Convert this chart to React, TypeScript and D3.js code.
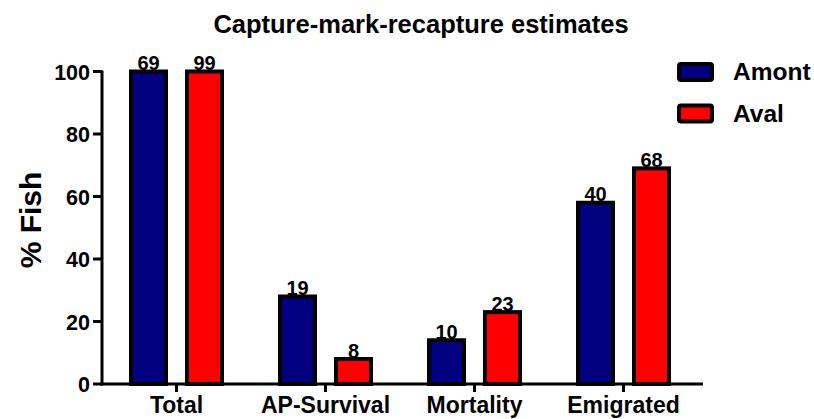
import React from "react";
import * as d3 from "d3";

const categories = ["Total", "AP-Survival", "Mortality", "Emigrated"];
const series = ["Amont", "Aval"];
const amontValues = [100, 28, 14, 58];
const avalValues = [100, 8, 23, 69];
const amontLabels = ["69", "19", "10", "40"];
const avalLabels = ["99", "8", "23", "68"];
const colors = ["#000080", "#ff0000"];
const yTicks = [0, 20, 40, 60, 80, 100];

export default function App() {
  const W = 814, H = 419;
  const x = d3.scaleBand<string>().domain(categories).range([102, 698]).padding(0);
  const xs = d3.scaleBand<string>().domain(series).range([29, 120]).paddingInner(0.375);
  const y = d3.scaleLinear().domain([0, 100]).range([384, 71.5]);
  const vals = [amontValues, avalValues];
  const labs = [amontLabels, avalLabels];
  const font = "'Liberation Sans', Arial, sans-serif";
  return (
    <svg width={W} height={H} style={{ position: "absolute", left: 0, top: 0, background: "#fff" }} fontFamily={font}>
      <text x={421} y={33} textAnchor="middle" fontWeight="bold" fontSize={25.5}>Capture-mark-recapture estimates</text>
      {series.map((s, si) =>
        categories.map((c, ci) => {
          const bx = (x(c) as number) + (xs(s) as number);
          const by = y(vals[si][ci]);
          return (
            <g key={s + c}>
              <rect x={bx} y={by} width={xs.bandwidth()} height={y(0) - by} fill={colors[si]} stroke="#000" strokeWidth={4} />
              <text x={bx + xs.bandwidth() / 2} y={by - 1.5} textAnchor="middle" fontWeight="bold" fontSize={20}>{labs[si][ci]}</text>
            </g>
          );
        })
      )}
      <line x1={102} x2={102} y1={y(100) - 1} y2={y(0) + 1.5} stroke="#000" strokeWidth={3} />
      {yTicks.map((t) => (
        <g key={t}>
          <line x1={93} x2={102} y1={y(t)} y2={y(t)} stroke="#000" strokeWidth={3} />
          <text x={90} y={y(t) + 8} textAnchor="end" fontWeight="bold" fontSize={21.5}>{t}</text>
        </g>
      ))}
      <line x1={100.5} x2={703} y1={y(0)} y2={y(0)} stroke="#000" strokeWidth={3} />
      {categories.map((c) => {
        const cx = (x(c) as number) + x.bandwidth() / 2;
        return (
          <g key={c}>
            <line x1={cx} x2={cx} y1={y(0)} y2={y(0) + 8} stroke="#000" strokeWidth={3} />
            <text x={cx} y={413} textAnchor="middle" fontWeight="bold" fontSize={23}>{c}</text>
          </g>
        );
      })}
      <text transform="translate(41,220) rotate(-90)" textAnchor="middle" fontWeight="bold" fontSize={30}>% Fish</text>
      {series.map((s, i) => (
        <g key={s}>
          <rect x={679} y={64 + i * 41.5} width={33} height={16} fill={colors[i]} stroke="#000" strokeWidth={4} rx={2} />
          <text x={733} y={80 + i * 41.5} fontWeight="bold" fontSize={24.5}>{s}</text>
        </g>
      ))}
    </svg>
  );
}
